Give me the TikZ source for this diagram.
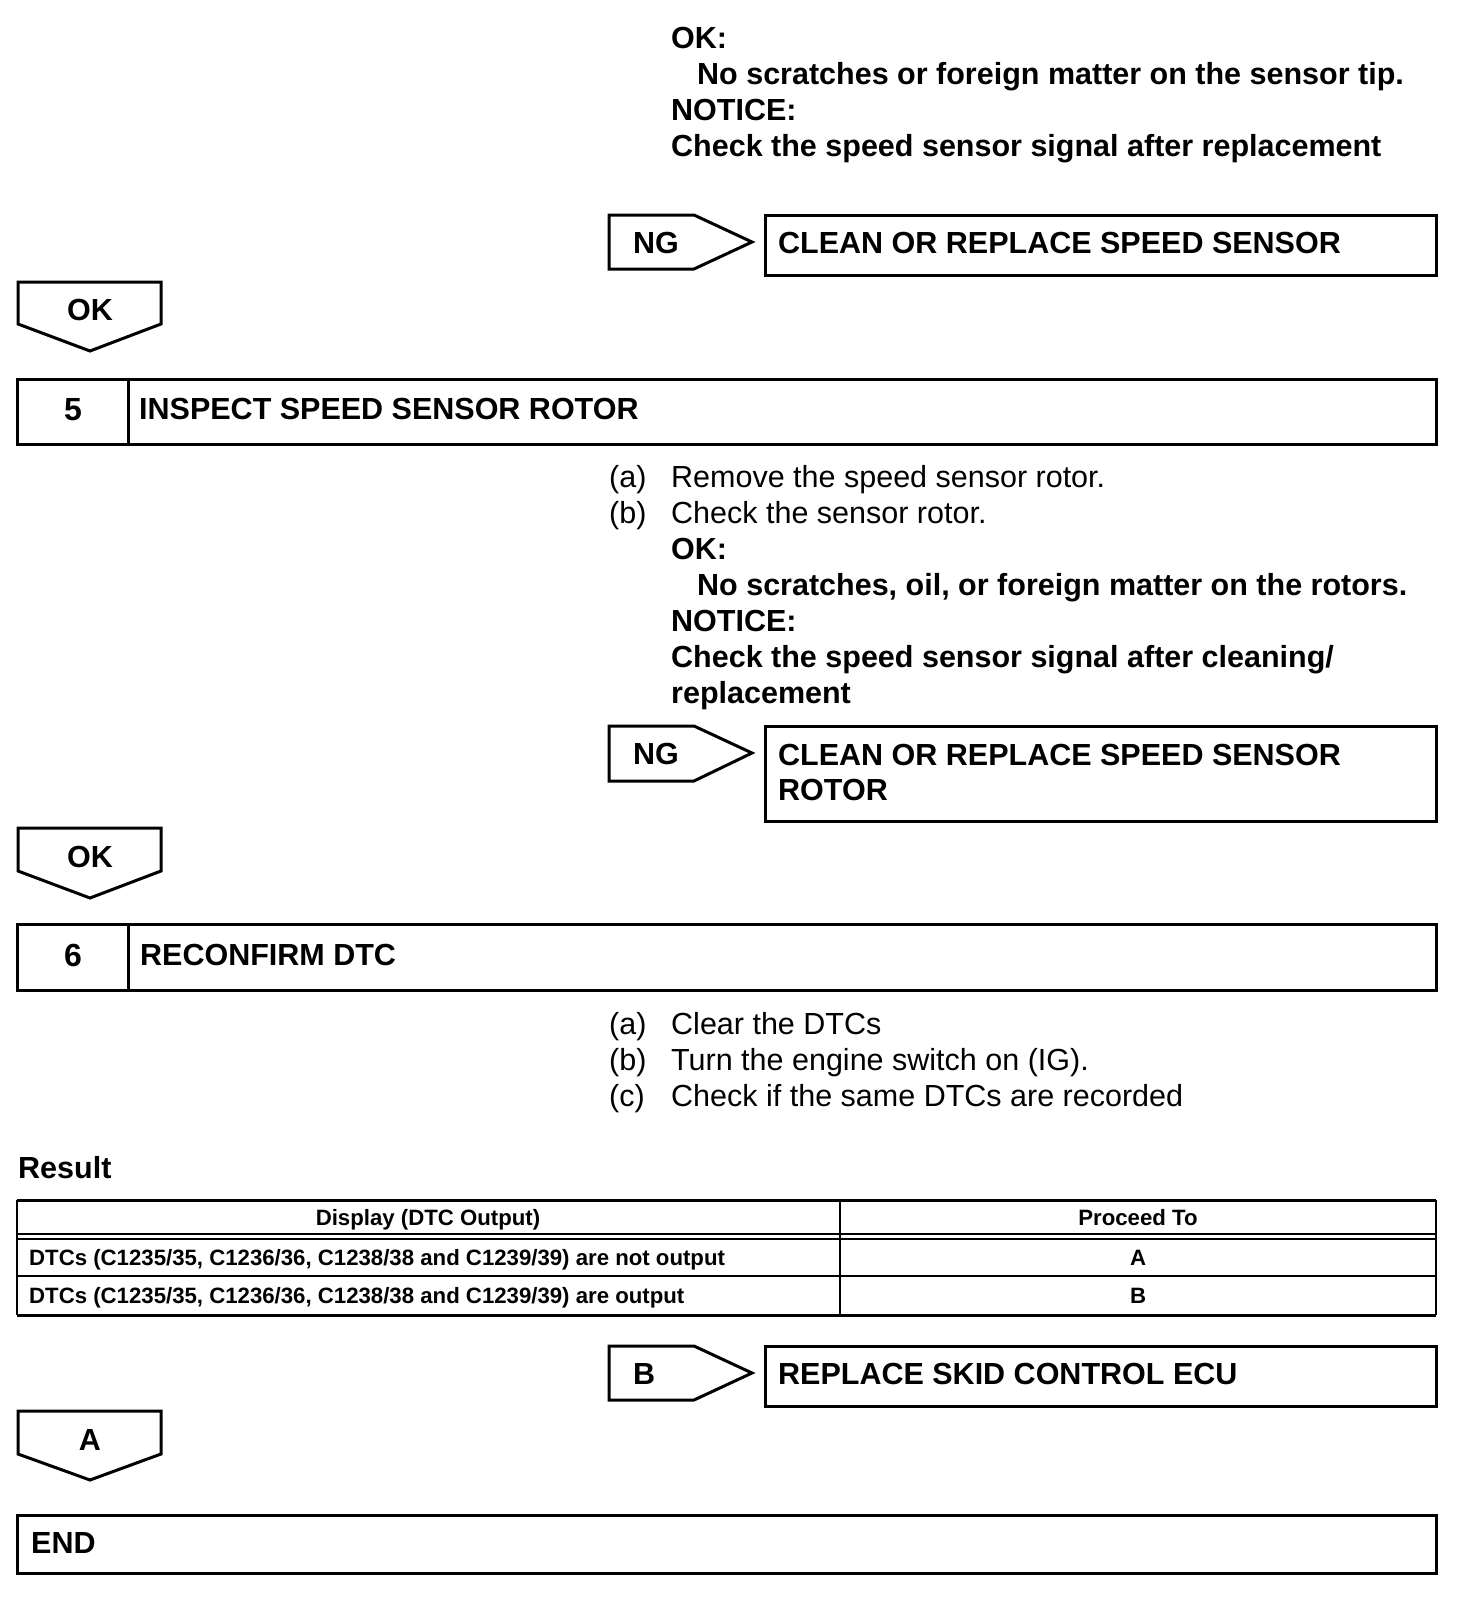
\documentclass[tikz,border=0pt]{standalone}
\usepackage{fontspec}
\setmainfont{Liberation Sans}
\begin{document}
\begin{tikzpicture}[x=1pt,y=-1pt,
  T/.style={font=\fontsize{30.5}{36}\selectfont, inner sep=0pt, anchor=base west},
  TB/.style={font=\fontsize{30.5}{36}\selectfont\bfseries, inner sep=0pt, anchor=base west},
  TN/.style={font=\fontsize{32}{36}\selectfont\bfseries, inner sep=0pt, anchor=base},
  TC/.style={font=\fontsize{30.5}{36}\selectfont\bfseries, inner sep=0pt, anchor=base},
  TT/.style={font=\fontsize{22.2}{26}\selectfont\bfseries, inner sep=0pt, anchor=base west},
  TTC/.style={font=\fontsize{22.2}{26}\selectfont\bfseries, inner sep=0pt, anchor=base},
  frame/.style={line width=3pt},
  thinline/.style={line width=1.5pt},
  flag/.style={line width=3pt, line join=miter},
]
\useasboundingbox (0,0) rectangle (1456,1600);

% ---- top block
\node[TB] (ok0) at (671,49) {OK:};
\node[TB] (ok0t) at (697,85) {No scratches or foreign matter on the sensor tip.};
\node[TB] (nt0) at (671,121) {NOTICE:};
\node[TB] (nt0t) at (671,157) {Check the speed sensor signal after replacement};

% ---- NG 1
\draw[flag] (609,215) -- (694,215) -- (752,242) -- (694,269) -- (609,269) -- cycle;
\node[TB] (ng1) at (633,253) {NG};
\draw[frame] (765,215) rectangle (1436,275);
\node[TB] (r1) at (778,253) {CLEAN OR REPLACE SPEED SENSOR};

% ---- OK arrow 1
\draw[flag] (18,282) -- (161,282) -- (161,324) -- (90,351) -- (18,324) -- cycle;
\node[TC] (ok1) at (90,320) {OK};

% ---- Step 5
\draw[frame] (17,379) rectangle (1436,444);
\draw[frame] (128,379) -- (128,444);
\node[TN] (s5n) at (73,420) {5};
\node[TB] (s5t) at (139,419) {INSPECT SPEED SENSOR ROTOR};

\node[T] (s5a) at (609,487) {(a)};
\node[T] (s5at) at (671,487) {Remove the speed sensor rotor.};
\node[T] (s5b) at (609,523) {(b)};
\node[T] (s5bt) at (671,523) {Check the sensor rotor.};
\node[TB] (ok5) at (671,559) {OK:};
\node[TB] (ok5t) at (697,595) {No scratches, oil, or foreign matter on the rotors.};
\node[TB] (nt5) at (671,631) {NOTICE:};
\node[TB] (nt5t) at (671,667) {Check the speed sensor signal after cleaning/};
\node[TB] (nt5u) at (671,703) {replacement};

% ---- NG 2
\draw[flag] (609,726) -- (694,726) -- (752,753) -- (694,781) -- (609,781) -- cycle;
\node[TB] (ng2) at (633,764) {NG};
\draw[frame] (765,726) rectangle (1436,821);
\node[TB] (r2a) at (778,765) {CLEAN OR REPLACE SPEED SENSOR};
\node[TB] (r2b) at (778,800) {ROTOR};

% ---- OK arrow 2
\draw[flag] (18,828) -- (161,828) -- (161,871) -- (90,898) -- (18,871) -- cycle;
\node[TC] (ok2) at (90,867) {OK};

% ---- Step 6
\draw[frame] (17,924) rectangle (1436,990);
\draw[frame] (128,924) -- (128,990);
\node[TN] (s6n) at (73,966) {6};
\node[TB] (s6t) at (140,965) {RECONFIRM DTC};

\node[T] (s6a) at (609,1034) {(a)};
\node[T] (s6at) at (671,1034) {Clear the DTCs};
\node[T] (s6b) at (609,1070) {(b)};
\node[T] (s6bt) at (671,1070) {Turn the engine switch on (IG).};
\node[T] (s6c) at (609,1106) {(c)};
\node[T] (s6ct) at (671,1106) {Check if the same DTCs are recorded};

% ---- Result table
\node[TB] (res) at (18,1178) {Result};
\draw[line width=3pt] (17,1200) -- (1436,1200);
\draw[thinline] (17,1234) -- (1436,1234);
\draw[thinline] (17,1239) -- (1436,1239);
\draw[thinline] (17,1276) -- (1436,1276);
\draw[line width=3pt] (17,1315) -- (1436,1315);
\draw[thinline] (17,1200) -- (17,1315);
\draw[thinline] (840,1200) -- (840,1315);
\draw[thinline] (1436,1200) -- (1436,1315);
\node[TTC] (h1) at (428,1225) {Display (DTC Output)};
\node[TTC] (h2) at (1138,1225) {Proceed To};
\node[TT] (c11) at (29,1265) {DTCs (C1235/35, C1236/36, C1238/38 and C1239/39) are not output};
\node[TTC] (c12) at (1138,1265) {A};
\node[TT] (c21) at (29,1303) {DTCs (C1235/35, C1236/36, C1238/38 and C1239/39) are output};
\node[TTC] (c22) at (1138,1303) {B};

% ---- B
\draw[flag] (609,1346) -- (694,1346) -- (752,1373) -- (694,1400) -- (609,1400) -- cycle;
\node[TB] (bb) at (633,1384) {B};
\draw[frame] (765,1346) rectangle (1436,1406);
\node[TB] (r3) at (778,1384) {REPLACE SKID CONTROL ECU};

% ---- A arrow
\draw[flag] (18,1411) -- (161,1411) -- (161,1454) -- (90,1480) -- (18,1454) -- cycle;
\node[TC] (aa) at (90,1450) {A};

% ---- END
\draw[frame] (17,1515) rectangle (1436,1573);
\node[TB] (endn) at (31,1553) {END};
\end{tikzpicture}
\end{document}
